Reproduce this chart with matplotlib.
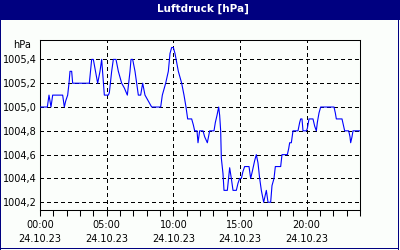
import matplotlib
matplotlib.use('Agg')
import matplotlib.pyplot as plt
from matplotlib.patches import Rectangle

title = 'Luftdruck [hPa]'
unit_label = 'hPa'

hours = [0.0, 0.55, 0.675, 0.825, 0.95, 1.70, 1.825, 1.925, 2.075, 2.175, 2.25, 2.375, 2.45,
         3.70, 3.875, 4.0, 4.325, 4.5, 4.625, 4.825, 5.125, 5.2, 5.375, 5.5, 5.7, 5.875,
         6.125, 6.325, 6.55, 6.75, 6.825, 6.95, 7.125, 7.25, 7.375, 7.55, 7.7, 7.875,
         8.125, 8.375, 9.05, 9.175, 9.425, 9.625, 9.75, 9.875, 10.0, 10.125, 10.375,
         10.625, 10.8, 10.95, 11.075, 11.375, 11.5, 11.6, 11.775, 11.85, 11.975, 12.225,
         12.35, 12.55, 12.725, 13.05, 13.15, 13.275, 13.4, 13.475, 13.55, 13.6, 13.725,
         13.8, 14.05, 14.15, 14.225, 14.35, 14.475, 14.725, 14.85, 14.975, 15.1, 15.225,
         15.35, 15.675, 15.8, 15.925, 16.1, 16.225, 16.35, 16.475, 16.6, 16.775, 16.9,
         16.975, 17.1, 17.3, 17.4, 17.55, 17.65, 18.05, 18.15, 18.55, 18.65, 18.725,
         18.85, 18.975, 19.35, 19.475, 19.55, 19.65, 19.725, 19.975, 20.05, 20.175,
         20.475, 20.6, 20.725, 20.8, 20.925, 21.05, 22.05, 22.15, 22.225, 22.65, 22.775,
         22.85, 23.15, 23.25, 23.3, 23.4, 23.475, 23.975]

pressure = [1005.0, 1005.0, 1005.1, 1005.0, 1005.1, 1005.1, 1005.0, 1005.05, 1005.1, 1005.2,
            1005.3, 1005.3, 1005.2, 1005.2, 1005.4, 1005.4, 1005.2, 1005.3, 1005.4, 1005.1,
            1005.1, 1005.12, 1005.3, 1005.4, 1005.4, 1005.3, 1005.2, 1005.16, 1005.1, 1005.3,
            1005.4, 1005.4, 1005.3, 1005.2, 1005.1, 1005.1, 1005.2, 1005.1, 1005.05, 1005.0,
            1005.0, 1005.1, 1005.2, 1005.3, 1005.45, 1005.5, 1005.5, 1005.45, 1005.3, 1005.2,
            1005.1, 1005.0, 1004.9, 1004.9, 1004.85, 1004.8, 1004.8, 1004.7, 1004.8, 1004.8,
            1004.75, 1004.7, 1004.8, 1004.8, 1004.87, 1004.93, 1005.0, 1004.93, 1004.8,
            1004.57, 1004.44, 1004.3, 1004.3, 1004.41, 1004.49, 1004.4, 1004.3, 1004.3,
            1004.36, 1004.4, 1004.4, 1004.46, 1004.5, 1004.5, 1004.4, 1004.46, 1004.55,
            1004.6, 1004.53, 1004.4, 1004.3, 1004.2, 1004.26, 1004.3, 1004.2, 1004.2,
            1004.34, 1004.4, 1004.5, 1004.5, 1004.6, 1004.6, 1004.65, 1004.7, 1004.7,
            1004.8, 1004.8, 1004.87, 1004.9, 1004.9, 1004.8, 1004.8, 1004.82, 1004.9,
            1004.9, 1004.84, 1004.8, 1004.87, 1004.95, 1005.0, 1005.0, 1004.95, 1004.9,
            1004.9, 1004.84, 1004.8, 1004.8, 1004.75, 1004.7, 1004.75, 1004.8, 1004.8]

xtick_hours = [0, 5, 10, 15, 20]
xtick_times = ['00:00', '05:00', '10:00', '15:00', '20:00']
xtick_dates = ['24.10.23'] * 5
ytick_values = [1004.2, 1004.4, 1004.6, 1004.8, 1005.0, 1005.2, 1005.4]
ytick_labels = ['1004,2', '1004,4', '1004,6', '1004,8', '1005,0', '1005,2', '1005,4']

navy = '#000080'
bg = '#FBFEFB'
W, H = 400, 250

fig = plt.figure(figsize=(4, 2.5), dpi=100)
fig.patch.set_facecolor(bg)

# title bar and frame
fig.add_artist(Rectangle((0, 1 - 20 / H), 1, 20 / H, transform=fig.transFigure,
                         facecolor=navy, edgecolor='none'))
fig.add_artist(Rectangle((0, 0), 1.2 / W, 1, transform=fig.transFigure,
                         facecolor=navy, edgecolor='none'))
fig.add_artist(Rectangle((398 / W, 0), 1.2 / W, 1, transform=fig.transFigure,
                         facecolor=navy, edgecolor='none'))
fig.add_artist(Rectangle((0, 1 / H), 399.2 / W, 1.2 / H, transform=fig.transFigure,
                         facecolor=navy, edgecolor='none'))
fig.text(203 / W, 1 - 9 / H, title, color='white', fontweight='bold',
         ha='center', va='center', fontsize=7.5, family='DejaVu Sans')

ax = fig.add_axes([40 / W, 1 - 210 / H, 320 / W, 170 / H])
ax.set_facecolor(bg)
ax.plot(hours, pressure, color='#0000FF', lw=0.8, antialiased=True, zorder=3)
ax.set_xlim(0, 24)
ax.set_ylim(1004.135, 1005.563)

ax.set_xticks(xtick_hours)
ax.set_xticklabels([f'{t}\n{d}' for t, d in zip(xtick_times, xtick_dates)],
                   fontsize=7, linespacing=1.55)
ax.set_xticks(list(range(25)), minor=True)
ax.tick_params(axis='x', which='both', direction='out', length=4, width=0.75,
               pad=3, colors='black')
ax.set_yticks(ytick_values)
ax.set_yticklabels(ytick_labels, fontsize=7)
ax.tick_params(axis='y', length=0, pad=2.5)

ax.grid(True, color='black', linestyle=(0, (3, 3)), linewidth=0.75, antialiased=False)
ax.set_axisbelow(True)
for s in ax.spines.values():
    s.set_linewidth(0.75)
    s.set_color('black')

fig.text(22.5 / W, 1 - 45 / H, unit_label, fontsize=7, ha='center', va='center')

fig.savefig('out.png', dpi=100, facecolor=bg)
